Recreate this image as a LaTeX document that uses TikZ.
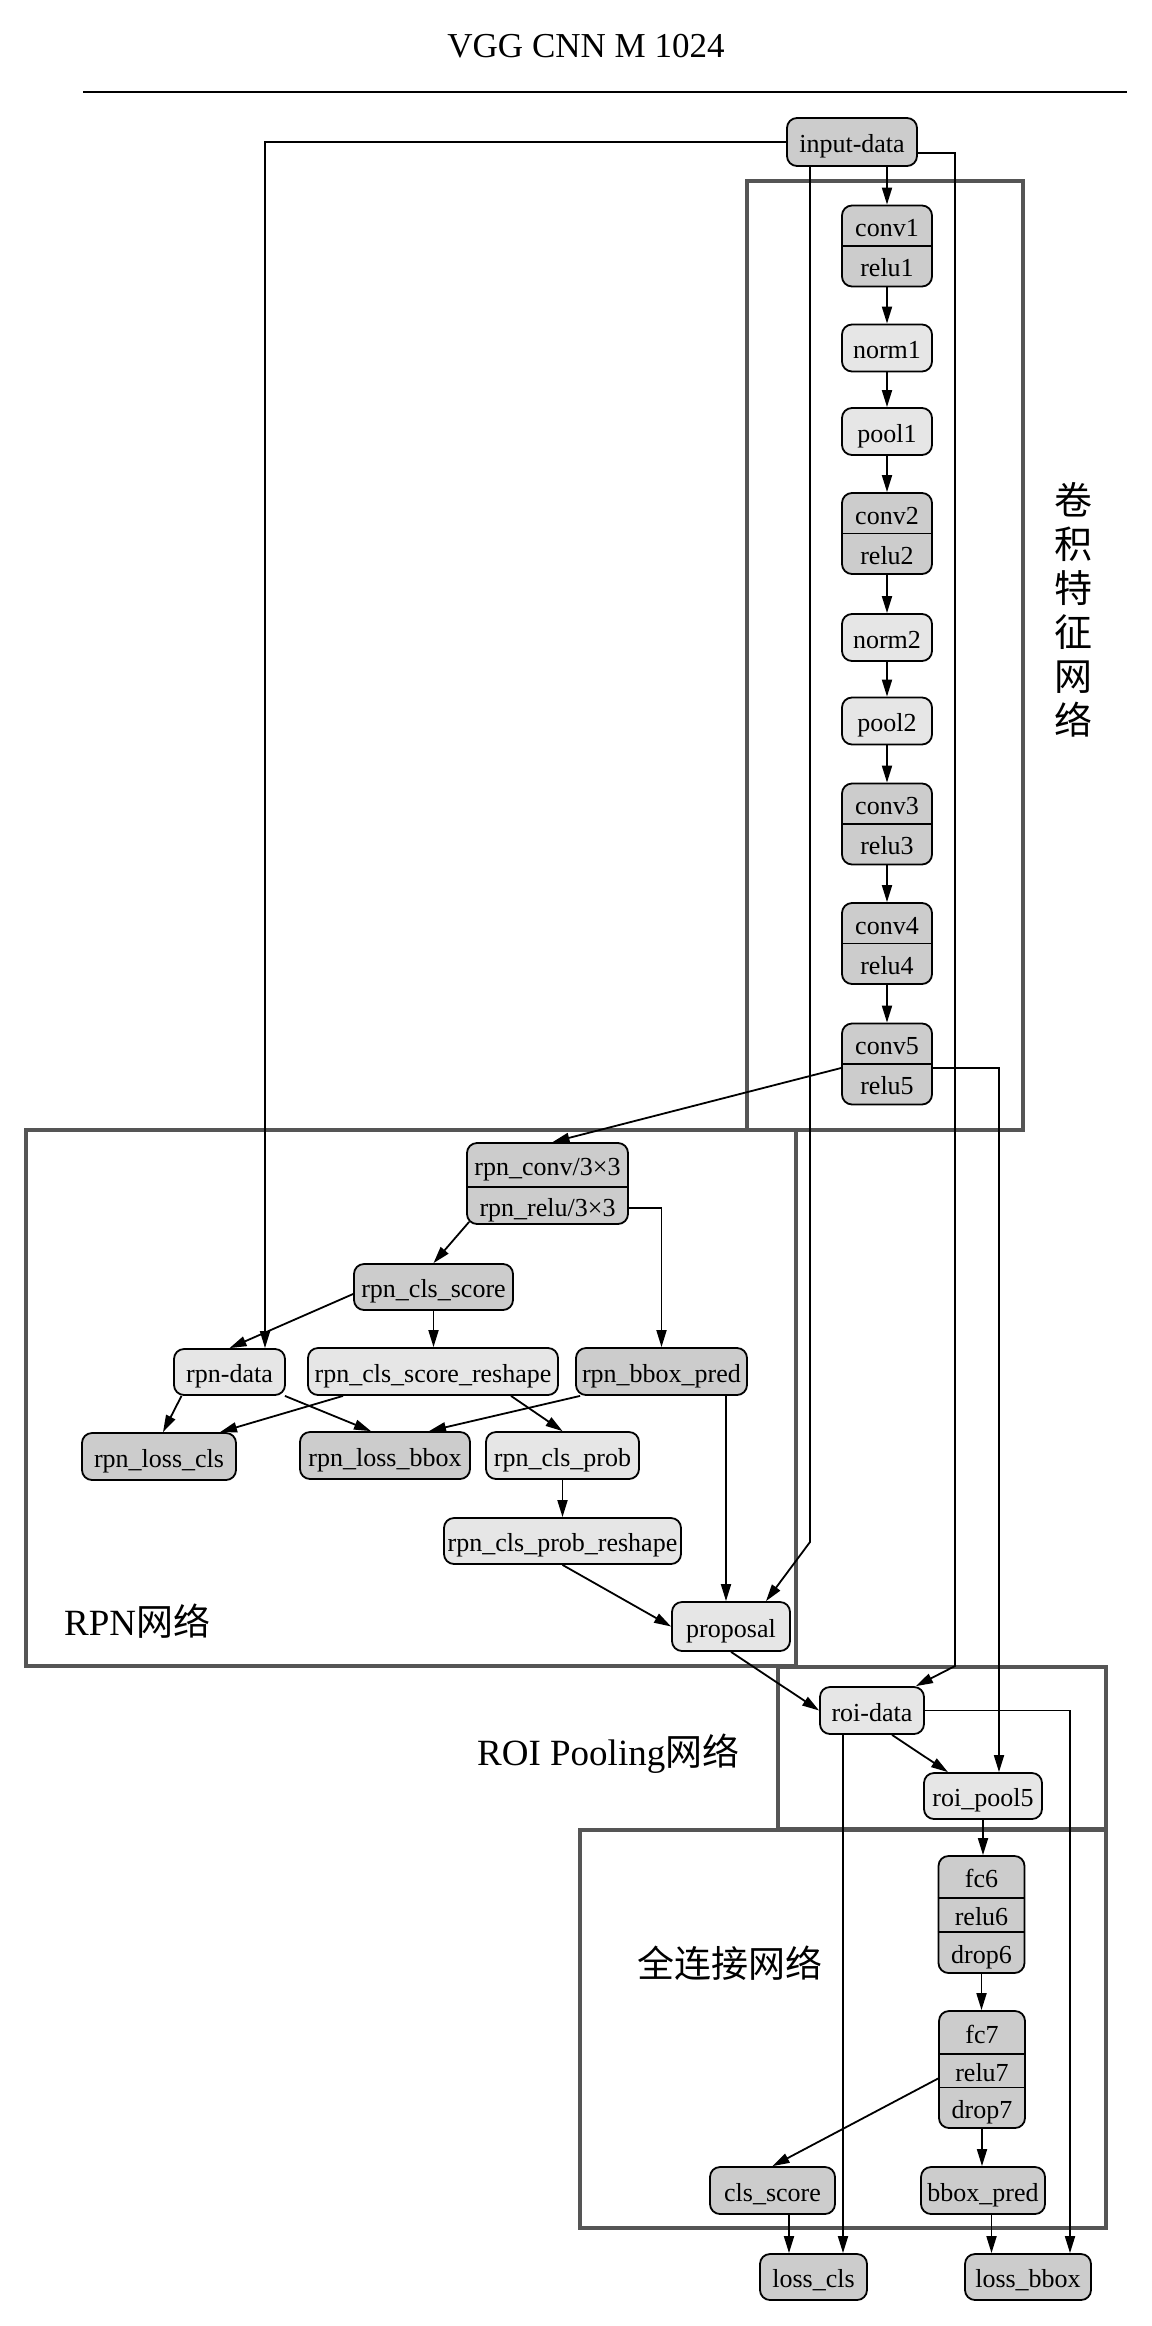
\documentclass[tikz,border=0pt]{standalone}
\usepackage{fontspec}
\setmainfont{Liberation Serif}
\newfontfamily\cjk{Noto Sans CJK SC}
\usetikzlibrary{arrows.meta,calc}
\definecolor{dkfill}{HTML}{CCCCCC}
\definecolor{ltfill}{HTML}{E6E6E6}
\definecolor{grpcol}{HTML}{555555}
\newcommand\nodefnt{\fontsize{26}{30}\selectfont}
\newcommand\lblfnt{\fontsize{37}{44}\selectfont}
\begin{document}
\begin{tikzpicture}[x=1pt,y=-1pt,
  box/.style={draw=black, line width=1.8pt, rounded corners=10pt, inner sep=0pt, font=\nodefnt, text height=21pt, text depth=0pt},
  dbox/.style={box, fill=dkfill},
  lbox/.style={box, fill=ltfill},
  lbl/.style={inner sep=0pt, font=\nodefnt, text height=21pt, text depth=0pt},
  conn/.style={line width=1.8pt, -{Triangle[length=17pt,width=10pt]}},
  wire/.style={line width=1.8pt},
  grp/.style={draw=grpcol, line width=3.5pt}]
\useasboundingbox (0,0) rectangle (1151,2326);

% title and rule
\node[font=\fontsize{35}{42}\selectfont, anchor=base, inner sep=0pt] (title) at (586,57) {VGG CNN M 1024};
\coordinate (r1) at (83,92);
\coordinate (r2) at (1127,92);
\draw[line width=2.2pt] (r1) -- (r2);

% group boxes
\draw[grp] (747,181) rectangle (1023,1130);
\draw[grp] (26,1130) rectangle (796,1666);
\draw[grp] (778,1667) rectangle (1106,1829);
\draw[grp] (580,1830) rectangle (1106,2228);

% group labels
\node[inner sep=0pt, font=\cjk\fontsize{38}{44}\selectfont, align=center] (convlbl) at (1073,610) {卷\\积\\特\\征\\网\\络};
\node[anchor=base west, inner sep=0pt, font=\lblfnt] (rpnlbl) at (64,1635) {RPN{\cjk 网络}};
\node[anchor=base west, inner sep=0pt, font=\lblfnt] (roilbl) at (477,1765) {ROI Pooling{\cjk 网络}};
\node[inner sep=0pt, font=\lblfnt\cjk] (fclbl) at (729.5,1963) {全连接网络};

% ---------- nodes ----------
\node[dbox, minimum width=130pt, minimum height=48pt] (input) at (852,142) {input-data};

\node[dbox, minimum width=90pt, minimum height=81pt] (conv1) at (887,246) {};
\node[lbl] (conv1a) at (887,226) {conv1};
\node[lbl] (conv1b) at (887,266) {relu1};
\draw[wire] (conv1.west) -- (conv1.east);

\node[lbox, minimum width=90pt, minimum height=47pt] (norm1) at (887,348) {norm1};
\node[lbox, minimum width=90pt, minimum height=47pt] (pool1) at (887,431.5) {pool1};

\node[dbox, minimum width=90pt, minimum height=81pt] (conv2) at (887,533.5) {};
\node[lbl] (conv2a) at (887,513.5) {conv2};
\node[lbl] (conv2b) at (887,553.5) {relu2};
\draw[wire] (conv2.west) -- (conv2.east);

\node[lbox, minimum width=90pt, minimum height=47pt] (norm2) at (887,637.5) {norm2};
\node[lbox, minimum width=90pt, minimum height=47pt] (pool2) at (887,721) {pool2};

\node[dbox, minimum width=90pt, minimum height=81pt] (conv3) at (887,824) {};
\node[lbl] (conv3a) at (887,804) {conv3};
\node[lbl] (conv3b) at (887,844) {relu3};
\draw[wire] (conv3.west) -- (conv3.east);

\node[dbox, minimum width=90pt, minimum height=81pt] (conv4) at (887,943.5) {};
\node[lbl] (conv4a) at (887,923.5) {conv4};
\node[lbl] (conv4b) at (887,963.5) {relu4};
\draw[wire] (conv4.west) -- (conv4.east);

\node[dbox, minimum width=90pt, minimum height=81pt] (conv5) at (887,1064) {};
\node[lbl] (conv5a) at (887,1044) {conv5};
\node[lbl] (conv5b) at (887,1084) {relu5};
\draw[wire] (conv5.west) -- (conv5.east);

\node[dbox, minimum width=161pt, minimum height=81pt] (rpnconv) at (547.5,1183.5) {};
\node[lbl] (rpnconva) at (547.5,1165) {rpn\_conv/3×3};
\node[lbl] (rpnconvb) at (547.5,1205.5) {rpn\_relu/3×3};
\draw[wire] ([yshift=-3.5pt]rpnconv.west) -- ([yshift=-3.5pt]rpnconv.east);

\node[dbox, minimum width=159pt, minimum height=46pt] (rpnscore) at (433.5,1287) {rpn\_cls\_score};
\node[lbox, minimum width=111pt, minimum height=46pt] (rpndata) at (229.5,1372) {rpn-data};
\node[lbox, minimum width=250pt, minimum height=47pt] (reshape) at (433,1371.5) {rpn\_cls\_score\_reshape};
\node[dbox, minimum width=171pt, minimum height=47pt] (rpnbbox) at (661.5,1371.5) {rpn\_bbox\_pred};
\node[dbox, minimum width=154pt, minimum height=47pt] (rpnlosscls) at (159,1456.5) {rpn\_loss\_cls};
\node[dbox, minimum width=170pt, minimum height=47pt] (rpnlossbbox) at (385,1455.5) {rpn\_loss\_bbox};
\node[lbox, minimum width=153pt, minimum height=47pt] (rpnprob) at (562.5,1455.5) {rpn\_cls\_prob};
\node[lbox, minimum width=237pt, minimum height=46pt] (probreshape) at (562.5,1541) {rpn\_cls\_prob\_reshape};
\node[lbox, minimum width=118pt, minimum height=49pt] (proposal) at (731,1626.5) {proposal};

\node[lbox, minimum width=104pt, minimum height=47pt] (roidata) at (872,1710.5) {roi-data};
\node[lbox, minimum width=118pt, minimum height=46pt] (roipool) at (983,1796) {roi\_pool5};

\node[dbox, minimum width=86pt, minimum height=117pt] (fc6) at (981.5,1914.5) {};
\node[lbl] (fc6a) at (981.5,1877) {fc6};
\node[lbl] (fc6b) at (981.5,1915) {relu6};
\node[lbl] (fc6c) at (981.5,1952.5) {drop6};
\draw[wire] ([yshift=16.5pt]fc6.west) -- ([yshift=16.5pt]fc6.east);
\draw[wire] ([yshift=-17.5pt]fc6.west) -- ([yshift=-17.5pt]fc6.east);

\node[dbox, minimum width=86pt, minimum height=117pt] (fc7) at (982,2069.5) {};
\node[lbl] (fc7a) at (982,2032.5) {fc7};
\node[lbl] (fc7b) at (982,2071) {relu7};
\node[lbl] (fc7c) at (982,2108) {drop7};
\draw[wire] ([yshift=15.5pt]fc7.west) -- ([yshift=15.5pt]fc7.east);
\draw[wire] ([yshift=-18pt]fc7.west) -- ([yshift=-18pt]fc7.east);

\node[dbox, minimum width=125pt, minimum height=47pt] (clsscore) at (772.5,2190.5) {cls\_score};
\node[dbox, minimum width=124pt, minimum height=47pt] (bboxpred) at (983,2190.5) {bbox\_pred};
\node[dbox, minimum width=107pt, minimum height=46pt] (losscls) at (813.5,2277) {loss\_cls};
\node[dbox, minimum width=126pt, minimum height=46pt] (lossbbox) at (1028,2277) {loss\_bbox};

% ---------- connectors ----------
\coordinate (b1) at (265,142);
\draw[conn] (input.west) -- (b1) -- (b1 |- rpndata.north);
\coordinate (b2) at (955,1666);
\draw[conn] ([yshift=-11pt]input.east) -| (b2) -- ([xshift=-9pt]roidata.north east);
\coordinate (b3) at (810,1542);
\draw[conn] (input.south -| b3) -- (b3) -- ([xshift=35pt]proposal.north);
\draw[conn] (input.south -| conv1.north) -- (conv1.north);

\draw[conn] (conv1.south) -- (norm1.north);
\draw[conn] (norm1.south) -- (pool1.north);
\draw[conn] (pool1.south) -- (conv2.north);
\draw[conn] (conv2.south) -- (norm2.north);
\draw[conn] (norm2.south) -- (pool2.north);
\draw[conn] (pool2.south) -- (conv3.north);
\draw[conn] (conv3.south) -- (conv4.north);
\draw[conn] (conv4.south) -- (conv5.north);

\draw[conn] ([yshift=-4pt]conv5.west) -- ([xshift=5pt]rpnconv.north);
\draw[conn] ([yshift=-4pt]conv5.east) -| ([xshift=16pt]roipool.north);

\draw[conn] ([yshift=-24.5pt]rpnconv.east) -| (rpnbbox.north);
\draw[conn] ([xshift=3pt,yshift=3pt]rpnconv.south west) -- (rpnscore.north);
\draw[conn] ([yshift=-7pt]rpnscore.west) -- (rpndata.north);
\draw[conn] (rpnscore.south) -- (rpnscore.south |- reshape.north);

\draw[conn] ([xshift=-48pt]rpndata.south) -- ([xshift=4pt]rpnlosscls.north);
\draw[conn] ([xshift=-1pt]rpndata.south east) -- ([xshift=-14pt]rpnlossbbox.north);
\draw[conn] ([xshift=-90pt]reshape.south) -- ([xshift=61pt]rpnlosscls.north);
\draw[conn] ([xshift=78pt]reshape.south) -- (rpnprob.north);
\draw[conn] ([xshift=5pt]rpnbbox.south west) -- ([xshift=44pt]rpnlossbbox.north);
\coordinate (p17) at ([xshift=-5pt]proposal.north);
\draw[conn] (p17 |- rpnbbox.south) -- (p17);
\draw[conn] (rpnprob.south) -- (rpnprob.south |- probreshape.north);
\draw[conn] (probreshape.south) -- (proposal.west);
\draw[conn] (proposal.south) -- (roidata.west);

\draw[conn] (roidata.east) -| ([xshift=42pt]lossbbox.north);
\coordinate (p22) at ([xshift=29.5pt]losscls.north);
\draw[conn] (p22 |- roidata.south) -- (p22);
\draw[conn] ([xshift=20pt]roidata.south) -- ([xshift=-35pt]roipool.north);

\draw[conn] (roipool.south) -- (roipool.south |- fc6.north);
\draw[conn] (fc6.south) -- (fc6.south |- fc7.north);
\draw[conn] ([yshift=-9pt]fc7.west) -- (clsscore.north);
\draw[conn] (fc7.south) -- (fc7.south |- bboxpred.north);
\coordinate (p28) at ([xshift=16.5pt]clsscore.south);
\draw[conn] (p28) -- (p28 |- losscls.north);
\coordinate (p29) at ([xshift=8.5pt]bboxpred.south);
\draw[conn] (p29) -- (p29 |- lossbbox.north);
\end{tikzpicture}
\end{document}
